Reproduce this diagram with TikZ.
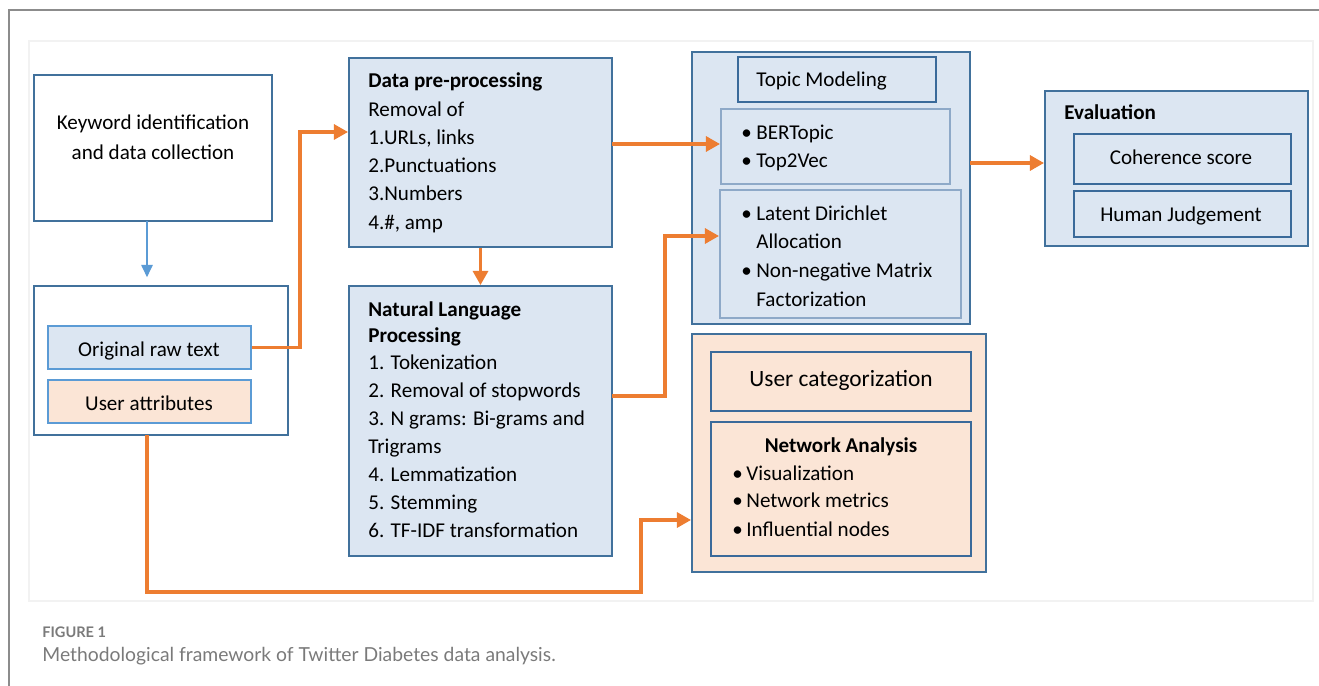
\documentclass[tikz,border=0pt]{standalone}
\usepackage{fontspec}
\setmainfont{Carlito}
\newfontfamily\capfont{Lato}
\usetikzlibrary{arrows.meta,fit}
\definecolor{bfill}{HTML}{DCE6F2}
\definecolor{pfill}{HTML}{FBE5D6}
\definecolor{dblue}{HTML}{41719C}
\definecolor{lblue}{HTML}{5B9BD5}
\definecolor{gblue}{HTML}{8EA9C8}
\definecolor{iblue}{HTML}{3A6A9A}
\definecolor{orng}{HTML}{ED7D31}
\definecolor{capgray}{HTML}{7A7A7A}
\begin{document}
\begin{tikzpicture}[x=0.02cm,y=-0.02cm,
  bx/.style={draw=dblue, line width=1.1pt, inner sep=0pt},
  wbx/.style={bx, fill=white},
  bbx/.style={bx, fill=bfill},
  pbx/.style={bx, fill=pfill},
  txt/.style={inner sep=0pt, anchor=base west, font=\fontsize{12}{14}\selectfont},
  ctxt/.style={txt, anchor=base},
  oarr/.style={draw=orng, line width=1.8pt, -{Triangle[length=8pt,width=8.5pt]}},
  barr/.style={draw=lblue, line width=0.8pt, -{Triangle[length=7pt,width=6.5pt]}},
]
\useasboundingbox (0,0) rectangle (1319,686);
% frame
\draw[black!45, line width=0.9pt] (9,686) -- (9,10) -- (1319,10);
\draw[black!5, line width=0.9pt, fill=white] (29,41) rectangle (1313,601);

% left column
\node[wbx, fit={(34,75)(272,221)}] (kw) {};
\node[ctxt] (kw1) at (153,130) {Keyword identification};
\node[ctxt] (kw2) at (153,159) {and data collection};

\node[wbx, fit={(34,286)(288,435)}] (left) {};
\node[bx, draw=lblue, fill=bfill, fit={(48,326)(251,369)}] (raw) {};
\node[ctxt] (rawt) at (149,356) {Original raw text};
\node[bx, draw=lblue, fill=pfill, fit={(48,380)(251,423)}] (ua) {};
\node[ctxt] (uat) at (149,410) {User attributes};

% data pre-processing
\node[bbx, fit={(349,58)(612,247)}] (dp) {};
\node[txt, font=\fontsize{12}{14}\selectfont\bfseries] (dp0) at (368,88) {Data pre-processing};
\foreach \t [count=\i] in {{Removal of},{1.URLs, links},{2.Punctuations},{3.Numbers},{4.\#, amp}}
  \node[txt] (dp\i) at (368,{88+28.2*\i}) {\t};

% NLP
\node[bbx, fit={(349,286)(612,556)}] (nlp) {};
\node[txt, font=\fontsize{12}{14}\selectfont\bfseries] (nlpa) at (368,316) {Natural Language};
\node[txt, font=\fontsize{12}{14}\selectfont\bfseries] (nlpb) at (368,342) {Processing};
\foreach \t [count=\i] in {{1. Tokenization},{2. Removal of stopwords},{3. N grams: Bi-grams and},{Trigrams},{4. Lemmatization},{5. Stemming},{6. TF-IDF transformation}}
  \node[txt] (nlp\i) at (368,{341+28*\i}) {\t};

% topic modeling
\node[bbx, fit={(692,52)(970,324)}] (topic) {};
\node[bx, draw=iblue, fill=bfill, fit={(738,57)(936,102)}] (tm) {};
\node[txt] (tmt) at (756,87) {Topic Modeling};
\node[bx, draw=gblue, fill=bfill, fit={(721,109)(950,184)}] (bert) {};
\node[txt] (bert1) at (741,140) {\hbox to 8.5pt{•\hss}BERTopic};
\node[txt] (bert2) at (741,168) {\hbox to 8.5pt{•\hss}Top2Vec};
\node[bx, draw=gblue, fill=bfill, fit={(720,190)(961,318)}] (lda) {};
\node[txt] (lda1) at (741,220) {\hbox to 8.5pt{•\hss}Latent Dirichlet};
\node[txt] (lda2) at (756,248) {Allocation};
\node[txt] (lda3) at (741,277) {\hbox to 8.5pt{•\hss}Non-negative Matrix};
\node[txt] (lda4) at (756,306) {Factorization};

% evaluation
\node[bbx, fit={(1045,91)(1308,246)}] (eval) {};
\node[txt, font=\fontsize{12}{14}\selectfont\bfseries] (evt) at (1064,120) {Evaluation};
\node[bx, draw=iblue, fill=bfill, fit={(1074,134)(1291,184)}] (coh) {};
\node[ctxt] (coht) at (1181,165) {Coherence score};
\node[bx, draw=iblue, fill=bfill, fit={(1074,191)(1291,237)}] (hj) {};
\node[ctxt] (hjt) at (1181,221) {Human Judgement};

% user categorization
\node[pbx, fit={(692,334)(986,572)}] (uc) {};
\node[bx, draw=iblue, fill=pfill, fit={(711,352)(971,411)}] (ucb) {};
\node[ctxt, font=\fontsize{13.3}{15}\selectfont] (ucbt) at (841,386) {User categorization};
\node[bx, draw=iblue, fill=pfill, fit={(711,422)(971,556)}] (na) {};
\node[ctxt, font=\fontsize{12}{14}\selectfont\bfseries] (nat) at (841,452) {Network Analysis};
\node[txt] (na1) at (732,480) {\hbox to 8pt{•\hss}Visualization};
\node[txt] (na2) at (732,507) {\hbox to 8pt{•\hss}Network metrics};
\node[txt] (na3) at (732,536) {\hbox to 8pt{•\hss}Influential nodes};

% connectors
\coordinate (a1) at (300,132);
\coordinate (kwb) at (147,221);
\coordinate (lft) at (147,286);
\coordinate (lfb) at (147,435);
\coordinate (e1) at (641,592);
\coordinate (e2) at (641,520);
\coordinate (c1) at (665,236);
\coordinate (b0) at (612,144);
\coordinate (n0) at (612,396);
\coordinate (t0) at (970,163);
\draw[barr, shorten >=5pt] (kwb) -- (lft);
\draw[oarr] (raw.east) -| (a1) -- (a1 -| dp.west);
\draw[oarr] (b0) -- (b0 -| bert.west);
\draw[oarr] (dp.south) -- (nlp.north);
\draw[oarr] (n0) -| (c1) -- (c1 -| lda.west);
\draw[oarr] (t0) -- (t0 -| eval.west);
\draw[oarr] (lfb) |- (e1) -- (e2) -- (e2 -| uc.west);

% caption
\node[txt, font=\capfont\fontsize{8.3}{10}\selectfont\bfseries, text=capgray] (fig) at (42,637) {FIGURE 1};
\node[txt, font=\capfont\fontsize{11}{13}\selectfont, text=capgray] (cap) at (42,661) {Methodological framework of Twitter Diabetes data analysis.};
\end{tikzpicture}
\end{document}
